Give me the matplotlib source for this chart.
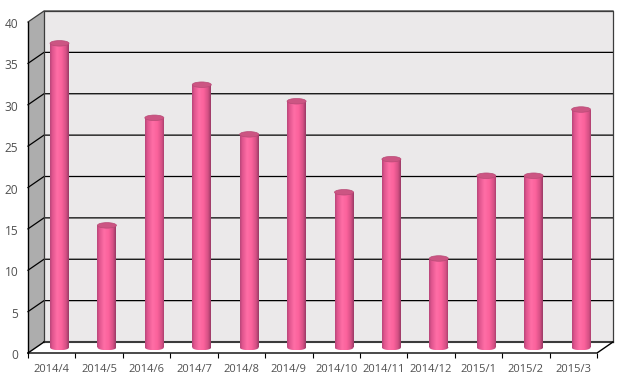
import numpy as np
import matplotlib
matplotlib.use("Agg")
import matplotlib.pyplot as plt
from matplotlib.patches import Polygon, Ellipse
from matplotlib.colors import LinearSegmentedColormap
from matplotlib.transforms import ScaledTranslation

categories = ["2014/4", "2014/5", "2014/6", "2014/7", "2014/8", "2014/9", "2014/10",
              "2014/11", "2014/12", "2015/1", "2015/2", "2015/3"]
values = [37, 15, 28, 32, 26, 30, 19, 23, 11, 21, 21, 29]
yticks = [0, 5, 10, 15, 20, 25, 30, 35, 40]

W, H = 627, 388
fig = plt.figure(figsize=(W / 100, H / 100), dpi=100, facecolor="white")
L, R, B, T = 28.0, 597.0, 353.0, 22.0   # front plane in pixels
ax = fig.add_axes([L / W, 1 - B / H, (R - L) / W, (B - T) / H])
ax.set_xlim(0, len(categories))
ax.set_ylim(0, 40)
ax.patch.set_visible(False)
for s in ax.spines.values():
    s.set_visible(False)

px = len(categories) / (R - L)
py = 40 / (B - T)
dx, dy = 16 * px, 11 * py      # depth of the 3-D box
n = len(categories)
ymax = yticks[-1]

# walls
ax.add_patch(Polygon([(dx, dy), (n + dx, dy), (n + dx, ymax + dy), (dx, ymax + dy)],
                     closed=True, fc="#ebe9ea", ec="none", zorder=1, clip_on=False))
ax.add_patch(Polygon([(0, 0), (dx, dy), (dx, ymax + dy), (0, ymax)],
                     closed=True, fc="#adadad", ec="none", zorder=1, clip_on=False))

# gridlines
for v in yticks[1:-1]:
    ax.plot([0, dx, n + dx], [v, v + dy, v + dy], color="black", lw=0.9, zorder=2,
            clip_on=False, solid_joinstyle="miter")
# box edges
edge = "#3c3c3c"
ax.plot([dx, n + dx, n + dx], [ymax + dy, ymax + dy, dy], color=edge, lw=0.9, zorder=2, clip_on=False)
ax.plot([dx, dx], [dy, ymax + dy], color=edge, lw=0.9, zorder=2, clip_on=False)
ax.plot([dx, n + dx], [dy, dy], color=edge, lw=1.5, zorder=2, clip_on=False)
ax.plot([0, dx, n + dx], [ymax, ymax + dy, ymax + dy], color=edge, lw=0.9, zorder=2, clip_on=False)
ax.plot([0, 0], [0, ymax], color="black", lw=1.0, zorder=6, clip_on=False)
ax.plot([0, n, n + dx], [0, 0, dy], color="black", lw=1.0, zorder=2, clip_on=False)
ax.plot([0, dx], [0, dy], color="black", lw=1.0, zorder=2, clip_on=False)

# cylinders
cmap = LinearSegmentedColormap.from_list(
    "cyl", [(0, "#b8467a"), (0.12, "#e0558e"), (0.38, "#ff6ea6"),
            (0.62, "#fb629c"), (0.85, "#d65085"), (1, "#9a3a66")])
grad = np.linspace(0, 1, 64).reshape(1, -1)
bw = 19 * px
off_x = 7.8 * px
base = 5.5 * py
top_off = 3.5 * py
eh = 5.5 * py
for i, v in enumerate(values):
    c = i + 0.5 + off_x
    y0, y1 = base, v + top_off
    im = ax.imshow(grad, cmap=cmap, extent=[c - bw / 2, c + bw / 2, y0, y1], aspect="auto",
                   zorder=4, interpolation="bilinear")
    clip = Polygon([(c - bw / 2, y0), (c + bw / 2, y0), (c + bw / 2, y1), (c - bw / 2, y1)],
                   closed=True, transform=ax.transData)
    im.set_clip_path(clip)
    # rounded bottom drawn with the same gradient
    im2 = ax.imshow(grad, cmap=cmap, extent=[c - bw / 2, c + bw / 2, y0 - eh / 2, y0 + 0.01],
                    aspect="auto", zorder=4, interpolation="bilinear")
    e2 = Ellipse((c, y0), bw, eh, transform=ax.transData, fc="none", ec="none")
    ax.add_patch(e2)
    im2.set_clip_path(e2)
    ax.add_patch(Ellipse((c, y1), bw, eh, fc="#cc5583", ec="#b84a76", lw=0.5, zorder=5, clip_on=False))

ax.set_xlim(0, n)
ax.set_ylim(0, 40)

# axes ticks
ax.set_xticks(np.arange(n + 1))
ax.set_xticklabels([])
ax.set_xticks(np.arange(n) + 0.5, minor=True)
ax.set_xticklabels(categories, minor=True, fontsize=8.0, color="#505050", family="Open Sans")
ax.tick_params(axis="x", which="major", length=3.6, width=0.8, color="black", direction="out")
ax.tick_params(axis="x", which="minor", length=0, pad=8.2)
ax.set_yticks(yticks)
ax.set_yticklabels([str(v) for v in yticks], fontsize=8.6, color="#505050", family="Open Sans")
ax.tick_params(axis="y", length=0, pad=7)
shift = ScaledTranslation(0, -1 / 100, fig.dpi_scale_trans)
for lab in ax.get_yticklabels():
    lab.set_transform(lab.get_transform() + shift)

fig.savefig("out.png", dpi=100, facecolor="white")
